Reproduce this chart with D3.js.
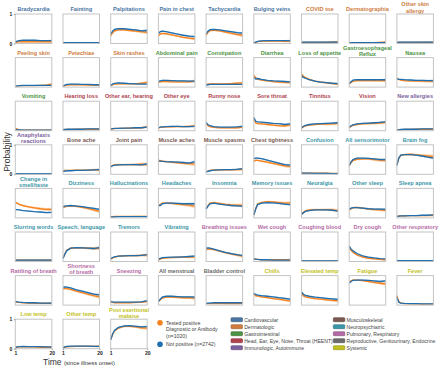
<!DOCTYPE html>
<html>
<head>
<meta charset="utf-8">
<script src="https://cdn.jsdelivr.net/npm/d3@7"></script>
<style>
body { margin: 0; background: #fff; }
text { font-family: "Liberation Sans", Arial, sans-serif; }
</style>
</head>
<body>
<div id="chart"></div>
<script>
var times = [1, 2, 3, 5, 8, 11, 14, 17, 20];

var categoryNames = ["Cardiovascular", "Dermatologic", "Gastrointestinal", "Head, Ear, Eye, Nose, Throat (HEENT)",
  "Immunologic, Autoimmune", "Musculoskeletal", "Neuropsychiatric", "Pulmonary, Respiratory",
  "Reproductive, Genitourinary, Endocrine", "Systemic"];
var categoryColors = ["#4a76a3", "#cf7d3f", "#4d9444", "#b0424d", "#7d62a0",
  "#7a5a52", "#3c97a8", "#b56ba6", "#6b6b6b", "#c2c21e"];

var symptoms = [
  "Bradycardia", "Fainting", "Palpitations", "Pain in chest", "Tachycardia", "Bulging veins", "COVID toe", "Dermatographia", "Other skin\nallergy",
  "Peeling skin", "Petechiae", "Skin rashes", "Abdominal pain", "Constipation", "Diarrhea", "Loss of appetite", "Gastroesophageal\nReflux", "Nausea",
  "Vomiting", "Hearing loss", "Other ear, hearing", "Other eye", "Runny nose", "Sore throat", "Tinnitus", "Vision", "New allergies",
  "Anaphylaxis\nreactions", "Bone ache", "Joint pain", "Muscle aches", "Muscle spasms", "Chest tightness", "Confusion", "All sensorimotor", "Brain fog",
  "Change in\nsmell/taste", "Dizziness", "Hallucinations", "Headaches", "Insomnia", "Memory issues", "Neuralgia", "Other sleep", "Sleep apnea",
  "Slurring words", "Speech, language", "Tremors", "Vibrating", "Breathing issues", "Wet cough", "Coughing blood", "Dry cough", "Other respiratory",
  "Rattling of breath", "Shortness\nof breath", "Sneezing", "All menstrual", "Bladder control", "Chills", "Elevated temp", "Fatigue", "Fever",
  "Low temp", "Other temp", "Post exertional\nmalaise"
];

var symptomCategory = [
  0, 0, 0, 0, 0, 0, 1, 1, 1,
  1, 1, 1, 2, 2, 2, 2, 2, 2,
  2, 3, 3, 3, 3, 3, 3, 3, 4,
  4, 5, 5, 5, 5, 5, 6, 6, 6,
  6, 6, 6, 6, 6, 6, 6, 6, 6,
  6, 6, 6, 6, 7, 7, 7, 7, 7,
  7, 7, 7, 8, 8, 9, 9, 9, 9,
  9, 9, 9
];

// percent of respondents reporting the symptom, tested positive (orange)
var positive = [
  [4,5,6,6,6,6,6,6,6], [2,2,2,2,2,2,2,2,2], [27,36,43,46,46,44,42,40,38], [26,32,34,33,29,25,21,18,16],
  [28,38,44,45,43,39,35,31,28], [2,4,6,8,8,8,8,7,8], [3,4,4,4,4,4,4,5,6], [1,2,2,2,2,2,3,4,5], [3,4,4,4,4,4,4,4,4],
  [2,3,4,5,5,5,6,7,10], [3,5,7,8,8,8,7,7,7], [5,8,10,11,11,11,11,13,16], [17,18,19,19,18,18,18,18,21],
  [8,10,11,11,11,11,12,13,14], [40,32,27,24,21,19,17,16,15], [44,37,32,26,20,17,14,12,10], [10,16,20,22,22,22,22,22,22], [30,26,24,22,21,20,20,20,20],
  [9,5,3,2,2,2,2,2,2], [3,4,4,4,5,5,5,5,5], [5,6,7,8,8,9,9,10,13], [9,11,12,13,13,14,14,15,16],
  [25,17,14,11,10,10,10,10,12], [42,26,24,23,21,19,17,16,20], [8,13,16,19,21,22,22,23,25], [10,15,18,21,23,24,25,26,28], [2,3,3,4,4,5,5,5,5],
  [1,1,1,2,2,2,2,2,2], [12,13,13,13,14,14,14,15,15], [27,30,32,33,33,33,33,34,33], [47,46,45,43,41,39,37,36,35],
  [9,11,13,14,15,15,15,16,17], [45,47,47,45,41,37,33,29,27], [4,4,4,4,4,4,4,3,3], [28,40,47,51,52,52,50,48,47], [32,55,64,67,68,66,64,62,60],
  [53,50,46,42,37,34,31,29,29], [35,37,40,41,39,36,32,27,22], [4,4,5,5,5,5,5,5,5], [44,45,50,50,49,47,45,43,40],
  [32,42,50,52,49,46,44,43,42], [10,32,47,52,55,54,52,50,50], [13,19,24,27,28,28,28,27,25], [27,31,35,36,33,30,28,27,26], [5,6,7,7,8,8,8,8,9],
  [4,5,5,5,5,5,5,5,5], [12,27,38,45,46,46,45,44,45], [8,12,15,18,19,20,20,21,21], [5,8,11,12,13,14,15,15,16],
  [40,42,42,40,35,30,26,22,18], [8,7,7,6,6,6,6,6,6], [1,1,1,1,1,1,1,1,1], [48,38,31,22,15,11,9,7,6], [3,3,3,3,3,3,3,3,3],
  [12,10,9,8,7,6,6,6,6], [55,57,56,53,47,42,37,32,28], [11,9,8,8,8,8,9,10,12], [12,18,24,27,27,26,25,25,24],
  [5,5,5,5,5,5,5,5,6], [38,31,31,28,25,22,20,17,14], [40,31,28,25,22,20,18,16,14], [78,82,85,85,83,80,77,74,72], [32,12,7,5,4,4,3,3,3],
  [4,5,6,6,6,6,5,5,5], [3,5,6,7,8,8,8,8,8], [30,48,60,70,76,76,74,71,70]
];

// percent of respondents reporting the symptom, not positive (blue)
var notPositive = [
  [5,8,10,11,11,11,10,10,10], [3,3,3,3,3,3,3,3,3], [33,42,48,50,50,48,46,43,44], [34,40,42,40,36,32,28,25,23],
  [33,42,47,48,46,43,40,37,35], [2,5,7,9,10,10,10,10,10], [4,5,5,5,5,5,5,5,5], [2,3,3,3,3,3,3,3,3], [4,5,5,5,5,5,5,5,5],
  [2,4,5,6,6,6,6,6,6], [3,7,9,10,10,9,9,8,8], [6,10,13,14,13,12,11,10,10], [19,21,23,23,22,21,21,20,20],
  [7,8,9,9,9,9,9,9,9], [33,27,29,26,23,21,20,19,18], [38,33,30,25,20,17,15,13,12], [12,18,24,25,25,25,25,25,25], [28,26,26,25,24,23,23,22,22],
  [4,3,3,2,2,2,2,2,2], [4,4,5,5,5,5,6,6,6], [6,7,8,8,9,9,10,10,12], [10,12,13,14,15,15,14,14,15],
  [28,20,17,14,12,12,12,13,15], [45,32,30,29,27,25,24,21,23], [10,15,18,21,23,24,25,26,27], [12,17,20,23,25,26,27,28,30], [2,3,4,5,5,5,6,6,6],
  [2,2,2,2,2,2,2,2,2], [10,11,12,12,13,13,14,15,16], [25,29,31,32,33,33,33,32,35], [45,45,44,43,42,41,40,38,43],
  [8,10,12,14,15,16,16,17,19], [53,55,55,53,48,43,38,33,31], [5,4,4,4,3,3,3,2,2], [30,42,50,55,55,54,52,50,50], [30,55,65,67,67,65,62,58,55],
  [28,28,27,25,23,21,20,18,19], [38,40,41,42,40,38,35,32,29], [3,3,3,4,4,4,4,4,4], [42,42,48,50,50,49,48,48,48],
  [30,40,48,50,47,44,42,41,40], [10,30,45,50,52,51,49,47,45], [12,17,22,25,27,27,27,26,23], [30,33,35,35,33,31,30,30,29], [5,6,7,7,8,8,9,9,10],
  [4,5,5,5,5,5,5,5,5], [10,25,37,45,47,46,45,44,47], [10,13,16,18,19,20,20,21,23], [8,11,13,14,15,15,16,17,18],
  [45,46,45,42,36,31,27,23,20], [9,8,7,6,6,5,5,5,5], [2,2,2,2,2,2,2,2,2], [52,42,36,27,19,15,12,10,9], [3,3,3,3,3,3,3,3,3],
  [13,11,10,9,8,8,7,7,7], [60,62,61,58,52,47,42,37,35], [13,11,10,10,10,10,10,11,15], [12,20,27,30,30,29,28,28,27],
  [6,7,7,8,8,8,8,8,8], [40,36,34,32,30,28,25,23,20], [45,37,33,30,27,25,23,21,19], [75,80,84,85,85,84,82,80,82], [27,10,7,6,5,5,4,4,4],
  [5,6,7,8,7,7,7,6,6], [4,6,8,9,9,9,9,8,8], [30,50,62,72,77,78,76,74,75]
];

// respondents still in the sample at each time point (used for the 95% bands)
var nPositive = [1020, 1000, 980, 940, 850, 700, 520, 360, 240];
var nNotPositive = [2742, 2700, 2650, 2550, 2300, 1900, 1400, 950, 620];

const COLS = 9
const X0 = 15.3, DX = 47.7, Y0 = 14, DY = 43.6
const PW = 36.5, PH = 29.5

const svg = d3.select("#chart").append("svg")
      .attr("width", 440)
      .attr("height", 366)

const x = d3.scaleLinear().domain([1, 20]).range([0, PW])
const y = d3.scaleLinear().domain([0, 1]).range([PH, 0])

const line = d3.line()
      .x(d => x(d.t))
      .y(d => y(d.p))
const band = d3.area()
      .x(d => x(d.t))
      .y0(d => y(Math.max(0, d.p - d.ci)))
      .y1(d => y(Math.min(1, d.p + d.ci)))

function points(vals, n) {
      return vals.map((v, k) => {
            const p = v / 100
            return { t: times[k], p: p, ci: 1.96 * Math.sqrt(p * (1 - p) / n[k]) }
      })
}

const yAxisRows = [0, 3, 7]

symptoms.forEach(function(name, i) {
      const col = i % COLS, row = Math.floor(i / COLS)
      const g = svg.append("g")
            .attr("transform", `translate(${X0 + col * DX}, ${Y0 + row * DY})`)
      const color = categoryColors[symptomCategory[i]]

      // title
      const lines = name.split("\n")
      lines.forEach(function(l, k) {
            g.append("text")
                  .attr("x", PW / 2)
                  .attr("y", lines.length == 1 ? -3 : -1.5 - (lines.length - 1 - k) * 6.2)
                  .attr("text-anchor", "middle")
                  .attr("font-size", "5.6px")
                  .attr("font-weight", "bold")
                  .attr("fill", color)
                  .text(l)
      })

      const series = [
            { d: points(positive[i], nPositive), stroke: "#f5821f", fill: "#fbb97a" },
            { d: points(notPositive[i], nNotPositive), stroke: "#1f6fb0", fill: "#8fbce0" }
      ]
      series.forEach(function(s) {
            g.append("path").attr("d", band(s.d))
                  .attr("fill", s.fill).attr("opacity", 0.7)
      })
      series.forEach(function(s) {
            g.append("path").attr("d", line(s.d))
                  .attr("fill", "none")
                  .attr("stroke", s.stroke)
                  .attr("stroke-width", 1.3)
      })

      g.append("rect")
            .attr("width", PW)
            .attr("height", PH)
            .attr("fill", "none")
            .attr("stroke", "#c4c4c4")
            .attr("stroke-width", 1)

      if (col == 0 && yAxisRows.includes(row)) {
            const ya = g.append("g").call(d3.axisLeft(y).tickValues([0, 1]).tickSize(1.5).tickPadding(1.5).tickFormat(d3.format("d")))
            ya.select(".domain").remove()
            ya.selectAll("text").attr("font-size", "5px").attr("font-weight", "bold").attr("fill", "#222")
                  .style("font-family", "Liberation Sans, Arial, sans-serif")
            ya.selectAll("line").attr("stroke", "#555").attr("stroke-width", 0.5)
      }
      if (i >= symptoms.length - 3) {
            const xa = g.append("g").attr("transform", `translate(0, ${PH})`)
                  .call(d3.axisBottom(x).tickValues([1, 20]).tickSize(1.5).tickPadding(1).tickFormat(d3.format("d")))
            xa.select(".domain").remove()
            xa.selectAll("text").attr("font-size", "5px").attr("font-weight", "bold").attr("fill", "#222")
                  .style("font-family", "Liberation Sans, Arial, sans-serif")
            xa.selectAll("line").attr("stroke", "#555").attr("stroke-width", 0.5)
      }
})

// Y label
svg.append("text")
      .attr("transform", "translate(10, 152) rotate(-90)")
      .attr("text-anchor", "middle")
      .attr("font-size", "8.5px")
      .attr("fill", "#333")
      .text("Probability")

// X label
const xl = svg.append("text")
      .attr("x", 43)
      .attr("y", 364.5)
      .attr("fill", "#333")
xl.append("tspan").attr("font-size", "8.5px").text("Time ")
xl.append("tspan").attr("font-size", "5.8px").text("(since illness onset)")

// series legend
const seriesLegend = [
      { color: "#f5821f", y: 322.7, lines: ["Tested positive", "Diagnostic or Antibody", "(n=" + nPositive[0] + ")"] },
      { color: "#1f6fb0", y: 344.3, lines: ["Not positive (n=" + nNotPositive[0] + ")"] }
]
seriesLegend.forEach(function(s) {
      svg.append("circle").attr("cx", 160).attr("cy", s.y).attr("r", 2.8).attr("fill", s.color)
      s.lines.forEach(function(l, k) {
            svg.append("text")
                  .attr("x", 166)
                  .attr("y", s.y + 1.8 + k * 6.5)
                  .attr("font-size", "5.2px")
                  .attr("fill", "#444")
                  .text(l)
      })
})

// category legend
categoryNames.forEach(function(c, k) {
      const lx = k < 5 ? 231 : 333.3
      const ly = 319.7 + (k % 5) * 7
      svg.append("rect")
            .attr("x", lx).attr("y", ly - 2)
            .attr("width", 11.5).attr("height", 4)
            .attr("rx", 0.8)
            .attr("fill", categoryColors[k])
            .attr("stroke", d3.color(categoryColors[k]).darker(0.8))
            .attr("stroke-width", 0.6)
      svg.append("text")
            .attr("x", lx + 13.2)
            .attr("y", ly + 1.8)
            .attr("font-size", "5.1px")
            .attr("fill", "#444")
            .text(c)
})
</script>
</body>
</html>
